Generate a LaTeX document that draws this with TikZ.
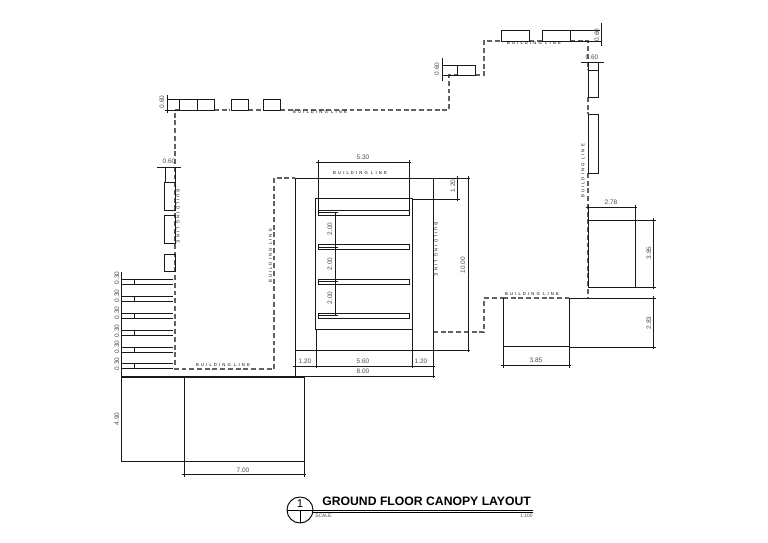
\documentclass[tikz,border=0pt]{standalone}
\usepackage{fontspec}
\setmainfont{Liberation Sans}
\newfontfamily\spacedfont[LetterSpace=50]{Liberation Sans}
\tikzset{
    wall/.style={line width=0.56pt, black!90},
    thinline/.style={line width=0.48pt, black!90},
    bldg/.style={line width=0.6pt, black!62, dash pattern=on 2.8pt off 1.6pt},
    dimtext/.style={font=\fontsize{3.7}{4}\selectfont, text=black!70, inner sep=0pt},
    bldgtext/.style={font=\fontsize{2.4}{3}\spacedfont, text=black, inner sep=0pt},
}
\begin{document}
\begin{tikzpicture}[x=0.02cm,y=-0.02cm]
    \useasboundingbox (0,0) rectangle (768,543);
    % building line
    \draw[bldg] (180,110)--(175,110)--(175,369)--(274,369)--(274,178)--(295,178);
    \draw[bldg] (214,110)--(230,110);
    \draw[bldg] (248,110)--(262,110);
    \draw[bldg] (280,110)--(449,110)--(449,75)--(457,75);
    \draw[bldg] (475,75)--(484,75)--(484,41)--(501,41);
    \draw[bldg] (529,41)--(542,41);
    \draw[bldg] (570,41)--(588,41)--(588,70);
    \draw[bldg] (588,97)--(588,114);
    \draw[bldg] (588,173)--(588,298);
    \draw[bldg] (433,332)--(484,332)--(484,298)--(503,298);
    \draw[bldg] (503,298)--(569,298);

    % top windows
    \draw[wall] (179,99) rectangle (197,110);
    \draw[wall] (197,99) rectangle (214,110);
    \draw[wall] (231,99) rectangle (248,110);
    \draw[wall] (263,99) rectangle (280,110);
    \draw[wall] (457,65) rectangle (475,75);
    \draw[wall] (501,30) rectangle (529,41);
    \draw[wall] (542,30) rectangle (570,41);
    \draw[wall] (588,70) rectangle (598,97);
    \draw[wall] (588,114) rectangle (598,173);
    % left windows
    \draw[wall] (164,182) rectangle (175,210);
    \draw[wall] (164,215) rectangle (175,243);
    \draw[wall] (164,254) rectangle (175,271);

    % opening dims
    \draw[thinline] (167,95)--(167,113);
    \draw[thinline] (167,99)--(179,99);
    \draw[thinline] (165,110)--(179,110);
    \draw[thinline] (157,167)--(181,167);
    \draw[thinline] (165,167)--(165,182);
    \draw[thinline] (175,167)--(175,182);
    \draw[thinline] (442,58)--(442,81);
    \draw[thinline] (442,65)--(457,65);
    \draw[thinline] (442,75)--(457,75);
    \draw[thinline] (570,30)--(600,30);
    \draw[thinline] (570,41)--(602,41);
    \draw[thinline] (601,23)--(601,46);
    \draw[thinline] (581,62)--(604,62);
    \draw[thinline] (588,62)--(588,70);
    \draw[thinline] (598,62)--(598,70);

    % steps
    \foreach \ytop in {279,296,313,330,347,363.5}
        {
        \draw[thinline] (121,\ytop)--(173,\ytop);
        \draw[thinline] (121,\ytop+5)--(173,\ytop+5);
        \draw[thinline] (134,\ytop)--(134,\ytop+5);
        }
    \draw[thinline] (121.5,272)--(121.5,383);

    % lower left block
    \draw[wall, line width=0.8pt] (121,377)--(304,377);
    \draw[wall] (184,377) rectangle (304,461);
    \draw[wall] (121,377)--(121,461)--(184,461);
    \draw[thinline] (184,461)--(184,477);
    \draw[thinline] (304,461)--(304,477);
    \draw[thinline] (182,474)--(306,474);

    % canopy
    \draw[wall] (295,178)--(433,178);
    \draw[wall] (295,178)--(295,378);
    \draw[wall] (433,178)--(433,378);
    \draw[wall] (295,350)--(470,350);
    \draw[wall] (315,198) rectangle (412,329);
    \draw[thinline] (412,199)--(460,199);
    \draw[thinline] (433,178)--(470,178);
    \draw[thinline] (457,176)--(457,201);
    \draw[thinline] (468,176)--(468,352);
    \draw[thinline] (316,162)--(411,162);
    \draw[thinline] (318,160)--(318,210);
    \draw[thinline] (409,160)--(409,210);
    \foreach \ybar in {210,244.5,279,313}
        {
        \draw[wall] (318,\ybar) rectangle (409,\ybar+5);
        \draw[thinline] (318,\ybar+2.5)--(338,\ybar+2.5);
        }
    \draw[wall] (335,212.5)--(335,315.5);
    \draw[thinline] (316,329)--(316,368);
    \draw[thinline] (412,329)--(412,368);
    \draw[thinline] (293,366)--(435,366);
    \draw[wall] (293,376)--(435,376);

    % right side blocks
    \draw[thinline] (586,207)--(637,207);
    \draw[thinline] (588,205)--(588,287);
    \draw[wall] (588,220)--(656,220);
    \draw[wall] (588,287)--(656,287);
    \draw[wall] (635,205)--(635,287);
    \draw[thinline] (653.5,218)--(653.5,289);
    \draw[wall] (503,298)--(503,346)--(569,346);
    \draw[wall] (569,298)--(569,347);
    \draw[wall] (569,298)--(656,298);
    \draw[wall] (569,347)--(656,347);
    \draw[thinline] (653.5,296)--(653.5,349);
    \draw[thinline] (503,346)--(503,368);
    \draw[thinline] (569,346)--(569,368);
    \draw[thinline] (501,365.5)--(571,365.5);

    % dim labels
    \node[dimtext, rotate=90] (d0a) at (162,102) {0.60};
    \node[dimtext] (d0b) at (169,161) {0.60};
    \node[dimtext, rotate=90] (d0c) at (437,69) {0.60};
    \node[dimtext, rotate=90] (d0d) at (597,35) {0.60};
    \node[dimtext] (d0e) at (592,57) {0.60};
    \node[dimtext] (d278) at (611,202) {2.78};
    \node[dimtext, rotate=90] (d385a) at (649,253) {3.85};
    \node[dimtext, rotate=90] (d283) at (649,323) {2.83};
    \node[dimtext] (d385b) at (536,360) {3.85};
    \node[dimtext] (d530) at (363,157) {5.30};
    \node[dimtext, rotate=90] (d120a) at (453,186) {1.20};
    \node[dimtext, rotate=90] (d1000) at (463,265) {10.00};
    \node[dimtext, rotate=90] (d2a) at (330,229) {2.00};
    \node[dimtext, rotate=90] (d2b) at (330,264) {2.00};
    \node[dimtext, rotate=90] (d2c) at (330,298) {2.00};
    \node[dimtext] (d120b) at (305,361) {1.20};
    \node[dimtext] (d560) at (363,361) {5.60};
    \node[dimtext] (d120c) at (421,361) {1.20};
    \node[dimtext] (d800) at (363,371) {8.00};
    \node[dimtext, rotate=90] (d490) at (117,419) {4.90};
    \node[dimtext] (d700) at (243,470) {7.00};
    \foreach \ylab [count=\i] in {278,296,313,331,347,364}
        \node[dimtext, rotate=90] (s\i) at (117,\ylab) {0.30};

    % building line labels
    \node[bldgtext] (bl1) at (320,112.5) {BUILDING LINE};
    \node[bldgtext] (bl2) at (534,43) {BUILDING LINE};
    \node[bldgtext] (bl3) at (360,173.5) {BUILDING LINE};
    \node[bldgtext] (bl4) at (532,294) {BUILDING LINE};
    \node[bldgtext] (bl5) at (223,365) {BUILDING LINE};
    \node[bldgtext, rotate=-90] (bl6) at (178,216) {BUILDING LINE};
    \node[bldgtext, rotate=-90] (bl7) at (436,249) {BUILDING LINE};
    \node[bldgtext, rotate=90] (bl8) at (270.5,256) {BUILDING LINE};
    \node[bldgtext, rotate=90] (bl9) at (583,171) {BUILDING LINE};

    % title
    \draw[line width=0.55pt] (300,510) circle (13);
    \draw[line width=0.55pt] (287,510)--(533,510);
    \draw[line width=0.55pt] (313,512.3)--(533,512.3);
    \draw[line width=0.55pt] (300,510)--(300,523);
    \node[font=\fontsize{6.5}{7}\selectfont, inner sep=0pt] (num) at (300,503.5) {1};
    \node[font=\fontsize{6.95}{8}\bfseries\selectfont, inner sep=0pt, anchor=west] (title) at (322,501.5) {GROUND FLOOR CANOPY LAYOUT};
    \node[font=\fontsize{2.8}{3}\selectfont, inner sep=0pt, anchor=west, text=black!70] (scalelab) at (315,516) {SCALE:};
    \node[font=\fontsize{2.8}{3}\selectfont, inner sep=0pt, anchor=east, text=black!70] (scaleval) at (533,516) {1:100};
\end{tikzpicture}
\end{document}
